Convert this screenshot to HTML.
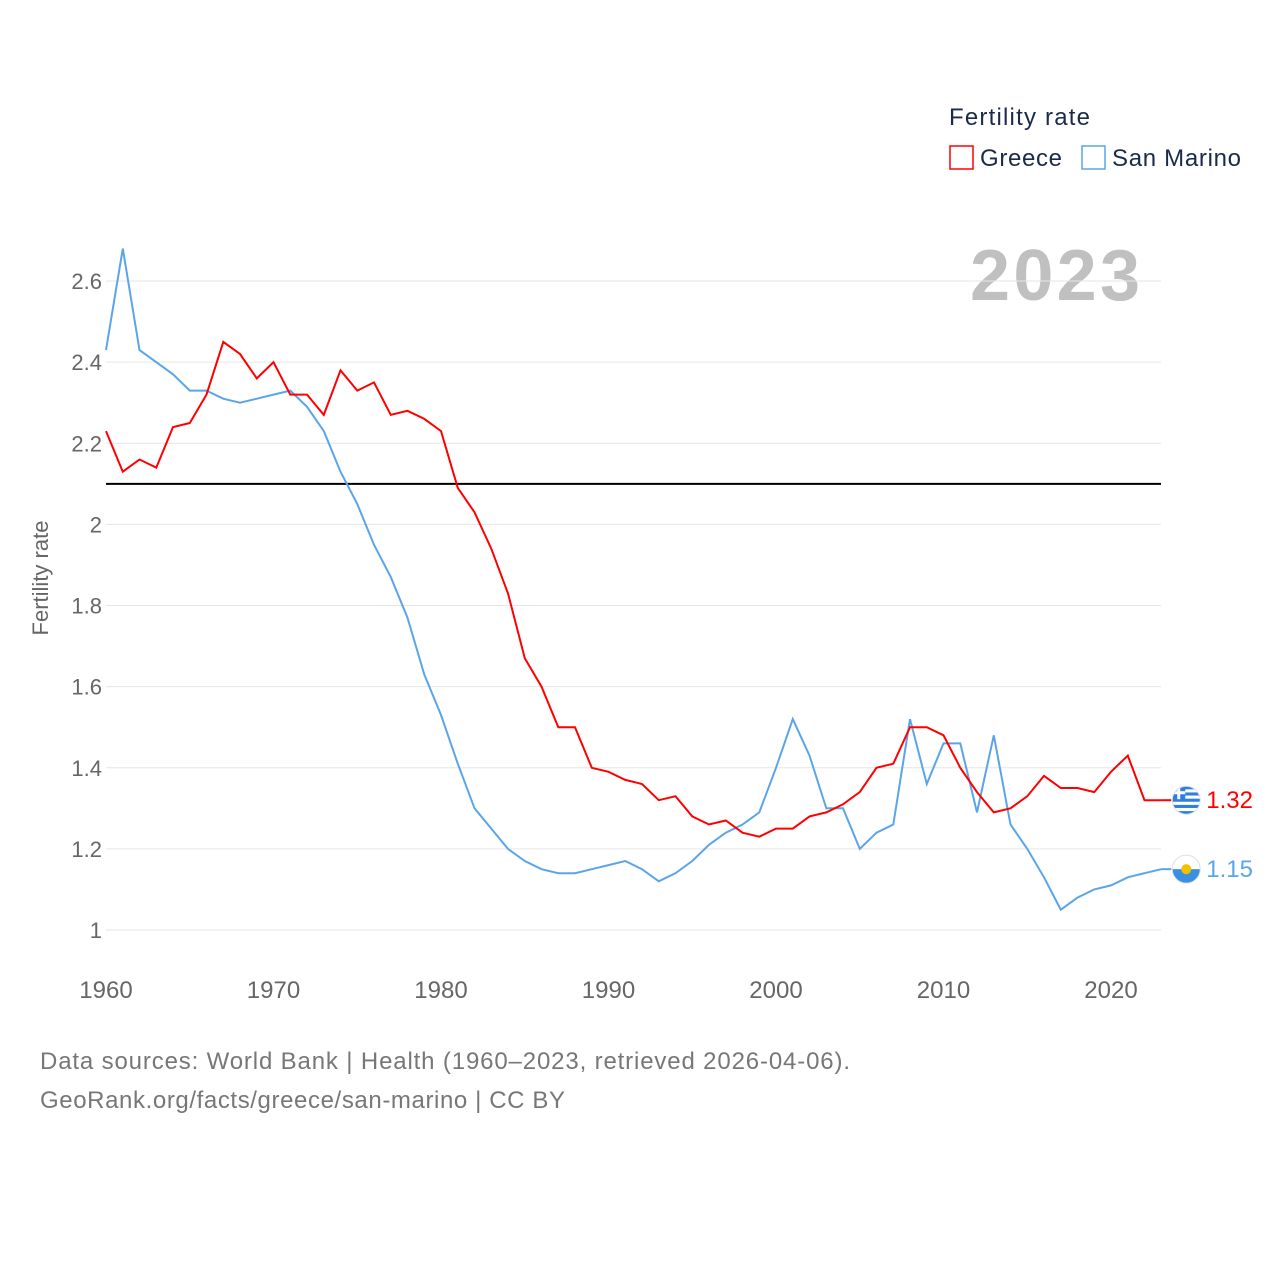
<!DOCTYPE html>
<html><head><meta charset="utf-8">
<style>
body{margin:0;background:#fff;font-family:"Liberation Sans",sans-serif;}
svg{display:block}
</style></head>
<body>
<svg id="chart" width="1280" height="1280" xmlns="http://www.w3.org/2000/svg">
<defs>
<clipPath id="cg"><circle cx="0" cy="0" r="14"/></clipPath>
</defs>
<text x="949" y="125" font-size="24" fill="#1a2a4a" textLength="141">Fertility rate</text>
<g>
<rect x="950" y="146" width="23" height="23" fill="none" stroke="#ff0000" stroke-width="1.5"/>
<text x="980" y="166" font-size="24" fill="#1a2a4a" textLength="82">Greece</text></g>
<g>
<rect x="1082" y="146" width="23" height="23" fill="none" stroke="#5aa5ea" stroke-width="1.5"/>
<text x="1112" y="166" font-size="24" fill="#1a2a4a" textLength="129">San Marino</text></g>
<text x="970" y="300" font-size="72" font-weight="bold" fill="#c0c0c0" textLength="170">2023</text>
<text transform="translate(48,578) rotate(-90)" font-size="22" fill="#666" text-anchor="middle">Fertility rate</text>
<g id="grid"></g><g id="lines"></g>
<text x="40" y="1069" font-size="24" fill="#777" textLength="810">Data sources: World Bank | Health (1960–2023, retrieved 2026-04-06).</text>
<text x="40" y="1108" font-size="24" fill="#777" textLength="525">GeoRank.org/facts/greece/san-marino | CC BY</text>
</svg>
<script>
const years=[];for(let y=1960;y<=2023;y++)years.push(y);
const greece=[2.23,2.13,2.16,2.14,2.24,2.25,2.32,2.45,2.42,2.36,2.40,2.32,2.32,2.27,2.38,2.33,2.35,2.27,2.28,2.26,2.23,2.09,2.03,1.94,1.83,1.67,1.60,1.50,1.50,1.40,1.39,1.37,1.36,1.32,1.33,1.28,1.26,1.27,1.24,1.23,1.25,1.25,1.28,1.29,1.31,1.34,1.40,1.41,1.50,1.50,1.48,1.40,1.34,1.29,1.30,1.33,1.38,1.35,1.35,1.34,1.39,1.43,1.32,1.32];
const sanMarino=[2.43,2.68,2.43,2.40,2.37,2.33,2.33,2.31,2.30,2.31,2.32,2.33,2.29,2.23,2.13,2.05,1.95,1.87,1.77,1.63,1.53,1.41,1.30,1.25,1.20,1.17,1.15,1.14,1.14,1.15,1.16,1.17,1.15,1.12,1.14,1.17,1.21,1.24,1.26,1.29,1.40,1.52,1.43,1.30,1.30,1.20,1.24,1.26,1.52,1.36,1.46,1.46,1.29,1.48,1.26,1.20,1.13,1.05,1.08,1.10,1.11,1.13,1.14,1.15];
const yTicks=[1,1.2,1.4,1.6,1.8,2,2.2,2.4,2.6];
const xTicks=[1960,1970,1980,1990,2000,2010,2020];
const replacement=2.1;
const X=y=>106+(y-1960)*16.75;
const Y=v=>930-(v-1)*405.6;
const NS="http://www.w3.org/2000/svg";
function mk(t,a,p){const e=document.createElementNS(NS,t);for(const k in a)e.setAttribute(k,a[k]);p.appendChild(e);return e;}
const grid=document.getElementById('grid'),lines=document.getElementById('lines');
yTicks.forEach(v=>{
 const l=mk('line',{x1:106,x2:1161,y1:Y(v),y2:Y(v),stroke:'#e6e6e6','stroke-width':1},grid);
 
 
 const t=mk('text',{x:102,y:Y(v)+8,'font-size':22,fill:'#666','text-anchor':'end'},grid);t.textContent=String(v);
 
 
});
xTicks.forEach(y=>{
 const t=mk('text',{x:X(y),y:998,'font-size':24,fill:'#666','text-anchor':'middle'},grid);t.textContent=y;
 
 
});
const ref=mk('line',{x1:106,x2:1161,y1:Y(replacement),y2:Y(replacement),stroke:'#000','stroke-width':2},grid);


function flag(name,cx,cy){
 const g=mk('g',{transform:'translate('+cx+','+cy+')','clip-path':'url(#cg)'},lines);
 
 
 mk('rect',{x:-14,y:-14,width:28,height:28,fill:'#fff'},g);
 if(name==='greece'){
  for(let i=0;i<9;i+=2)mk('rect',{x:-14,y:-14+i*28/9,width:28,height:28/9,fill:'#2f7fe0'},g);
  mk('rect',{x:-14,y:-14,width:13,height:13,fill:'#2f7fe0'},g);
  mk('rect',{x:-9,y:-14,width:3,height:13,fill:'#fff'},g);
  mk('rect',{x:-14,y:-9,width:13,height:3,fill:'#fff'},g);
 }else{
  mk('rect',{x:-14,y:0,width:28,height:14,fill:'#3b8fe0'},g);
  mk('circle',{cx:0,cy:0,r:5,fill:'#f2c200'},g);
 }
 mk('circle',{cx:cx,cy:cy,r:14,fill:'none',stroke:'#e0e0e0','stroke-width':1},lines);
}
function series(vals,color,name){
 const d=vals.map((v,i)=>(i?'L':'M')+X(years[i]).toFixed(1)+','+Y(v).toFixed(1)).join('');
 const p=mk('path',{d:d,fill:'none',stroke:color,'stroke-width':2},lines);
 
 
 const lv=vals[vals.length-1],lx=X(years[years.length-1]),ly=Y(lv);
 mk('line',{x1:lx,x2:lx+10,y1:ly,y2:ly,stroke:color,'stroke-width':2},lines);
 flag(name,lx+25,ly);
 const t=mk('text',{x:lx+45,y:ly+8,'font-size':24,fill:color},lines);t.textContent=lv.toFixed(2);
 
 
}
series(sanMarino,'#5aa5ea','san-marino');
series(greece,'#ff0000','greece');
</script>
</body></html>
